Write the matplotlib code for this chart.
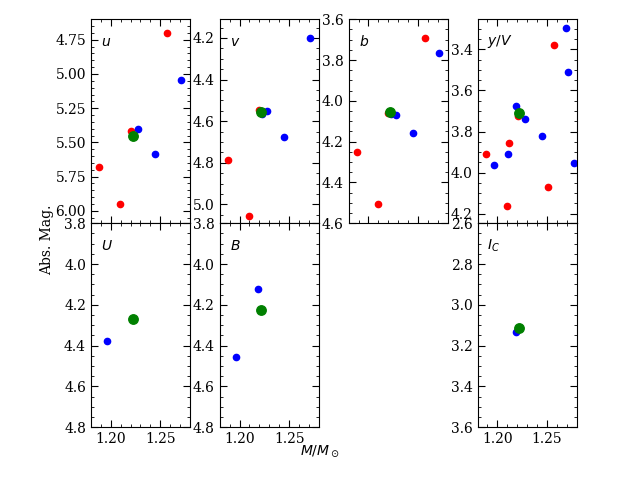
import matplotlib
matplotlib.use('Agg')
import matplotlib.pyplot as plt
from matplotlib.ticker import MultipleLocator, AutoMinorLocator

plt.rcParams['font.family'] = 'serif'
plt.rcParams['xtick.direction'] = 'in'
plt.rcParams['ytick.direction'] = 'in'
plt.rcParams['xtick.top'] = True
plt.rcParams['ytick.right'] = True
plt.rcParams['xtick.major.size'] = 5
plt.rcParams['ytick.major.size'] = 5
plt.rcParams['xtick.minor.size'] = 2.5
plt.rcParams['ytick.minor.size'] = 2.5

# masses of the comparison models
red_mass = [1.188, 1.2096, 1.2200, 1.257]
blue_mass = [1.2227, 1.2275, 1.245, 1.271]
green_mass = 1.222

# Stroemgren bands (None = not plotted)
u_red = [5.679, 5.951, 5.414, 4.700]
u_blue = [None, 5.404, 5.581, 5.046]
u_green = 5.451

v_red = [4.784, 5.054, 4.545, None]
v_blue = [4.565, 4.551, 4.678, 4.200]
v_green = 4.556

b_red = [4.251, 4.506, 4.062, 3.692]
b_blue = [4.065, 4.070, 4.158, 3.766]
b_green = 4.053

# y / V has extra points
yV_red_mass = [1.1884, 1.2093, 1.2116, 1.2207, 1.251, 1.2568]
yV_red = [3.907, 4.164, 3.857, 3.725, 4.070, 3.377]
yV_blue_mass = [1.1965, 1.2106, 1.2184, 1.2278, 1.245, 1.2692, 1.2712, 1.2773]
yV_blue = [3.962, 3.908, 3.676, 3.741, 3.820, 3.294, 3.510, 3.951]
yV_green = 3.712

# Johnson / Cousins bands
U_blue_mass = [1.1965]
U_blue = [4.377]
U_green = 4.270

B_blue_mass = [1.1965, 1.2187]
B_blue = [4.455, 4.123]
B_green = 4.226

Ic_blue_mass = [1.2187]
Ic_blue = [3.133]
Ic_green = 3.114


def pairs(xs, ys):
    pts = [(x, y) for x, y in zip(xs, ys) if y is not None]
    return [p[0] for p in pts], [p[1] for p in pts]


def draw(ax, label, rx, ry, bx, by, gy, ylim, ystep):
    if rx:
        ax.plot(rx, ry, 'o', color='red', ms=4.5, ls='none')
    if bx:
        ax.plot(bx, by, 'o', color='blue', ms=4.5, ls='none')
    ax.plot([green_mass], [gy], 'o', color='green', ms=6.8, ls='none')
    ax.set_ylim(*ylim)
    ax.yaxis.set_major_locator(MultipleLocator(ystep))
    ax.yaxis.set_minor_locator(AutoMinorLocator())
    ax.text(0.1, 0.89, label, transform=ax.transAxes, ha='left', va='center')


fig, axes = plt.subplots(2, 4, sharex=True, figsize=(6.4, 4.8), dpi=100)
fig.subplots_adjust(left=0.142, right=0.901, top=0.96, bottom=0.11,
                    hspace=0, wspace=0.3)

rx, ry = pairs(red_mass, u_red)
bx, by = pairs(blue_mass, u_blue)
draw(axes[0, 0], '$u$', rx, ry, bx, by, u_green, (6.09, 4.60), 0.25)

rx, ry = pairs(red_mass, v_red)
bx, by = pairs(blue_mass, v_blue)
draw(axes[0, 1], '$v$', rx, ry, bx, by, v_green, (5.09, 4.11), 0.2)

rx, ry = pairs(red_mass, b_red)
bx, by = pairs(blue_mass, b_blue)
draw(axes[0, 2], '$b$', rx, ry, bx, by, b_green, (4.6, 3.6), 0.2)

draw(axes[0, 3], '$y/V$', yV_red_mass, yV_red, yV_blue_mass, yV_blue,
     yV_green, (4.246, 3.253), 0.2)

draw(axes[1, 0], '$U$', [], [], U_blue_mass, U_blue, U_green, (4.8, 3.8), 0.2)
draw(axes[1, 1], '$B$', [], [], B_blue_mass, B_blue, B_green, (4.8, 3.8), 0.2)
axes[1, 2].axis('off')
draw(axes[1, 3], '$I_C$', [], [], Ic_blue_mass, Ic_blue, Ic_green, (3.6, 2.6), 0.2)

ax0 = axes[1, 0]
ax0.set_xlim(1.18, 1.28)
ax0.xaxis.set_major_locator(MultipleLocator(0.05))
ax0.xaxis.set_minor_locator(MultipleLocator(0.01))

fig.text(0.073, 0.5, 'Abs. Mag.', rotation=90, ha='center', va='center')
fig.text(0.5, 0.06, r'$M/M_\odot$', ha='center', va='center')

fig.savefig('out.png', dpi=100)
